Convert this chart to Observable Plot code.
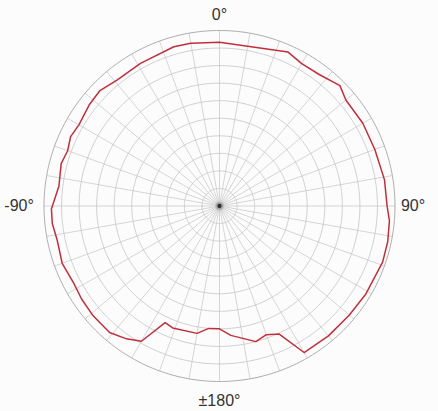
<!DOCTYPE html>
<html>
<head>
<meta charset="utf-8">
<script src="https://cdn.jsdelivr.net/npm/d3@7"></script>
<script src="https://cdn.jsdelivr.net/npm/@observablehq/plot@0.6"></script>
<style>
  html, body { margin: 0; padding: 0; background: #fcfcfc; }
  #chart svg { display: block; }
</style>
</head>
<body>
<div id="chart"></div>
<script>
// Angle in degrees, clockwise from top (0° = top, 90° = right, ±180° = bottom)
const angles = [-180, -175, -170, -159, -155, -150, -145, -139, -131, -124, -118, -110, -102, -96, -91,
  -83, -75, -70, -65, -60, -52, -46, -39, -29, -16, -10, 0, 10, 24, 30, 37, 45, 50, 60, 70, 81, 90,
  95, 102, 109, 121, 130, 140, 150, 155, 160, 165, 175, 180];
// Relative radius (outer ring = 1)
const radii = [0.70, 0.70, 0.737, 0.744, 0.733, 0.89, 0.924, 0.955, 0.954, 0.948, 0.94, 0.954, 0.945, 0.958, 0.958,
  0.922, 0.934, 0.921, 0.936, 0.925, 0.94, 0.947, 0.925, 0.929, 0.944, 0.942, 0.933, 0.924, 0.96, 0.937, 0.94, 0.97, 0.94, 0.943, 0.942, 0.952, 0.955,
  0.972, 0.98, 0.983, 0.973, 0.966, 0.966, 0.964, 0.805, 0.78, 0.80, 0.74, 0.70];

const ringLevels = [0.1, 0.2, 0.3, 0.4, 0.5, 0.6, 0.7, 0.8, 0.9];
const spokeAngles = d3.range(-170, 190, 10);
const labelAngles = [0, 90, -90, 180];
const labelTexts = ["0°", "90°", "-90°", "±180°"];
const labelRadii = [1.09, 1.103, 1.142, 1.11];

const pattern = angles.map((a, i) => ({angle: a, r: radii[i]}));
const labels = labelAngles.map((a, i) => ({angle: a, text: labelTexts[i], r: labelRadii[i]}));

const lon = a => 180 - a;
const lat = r => 90 - r;
const circle = r => d3.geoCircle().center([0, 90]).radius(r).precision(1)();

const chart = Plot.plot({
  width: 438,
  height: 411,
  margin: 0,
  style: {background: "#fcfcfc", fontFamily: "'Liberation Sans', Arial, sans-serif"},
  projection: {
    type: "azimuthal-equidistant",
    rotate: [0, -90],
    domain: circle(1.171)
  },
  marks: [
    Plot.geo(ringLevels, {geometry: circle, stroke: "#c4c4c4", strokeWidth: 0.8, fill: "none"}),
    Plot.link(spokeAngles, {x1: a => lon(a), y1: 90, x2: a => lon(a), y2: lat(1), stroke: "#c4c4c4", strokeWidth: 0.7}),
    Plot.geo([1], {geometry: circle, stroke: "#adadad", strokeWidth: 1, fill: "none"}),
    Plot.dot([0, 1, 2], {x: 0, y: 90, r: d => [12, 7, 2.4][d], fill: d => ["#999", "#777", "#222"][d], fillOpacity: d => [0.22, 0.35, 0.9][d], stroke: "none"}),
    Plot.line(pattern, {x: d => lon(d.angle), y: d => lat(d.r), stroke: "#c0303c", strokeWidth: 1.5}),
    Plot.text(labels, {x: d => lon(d.angle), y: d => lat(d.r), text: "text", fontSize: 16, fill: "#333", fontFamily: "'Liberation Sans', Arial, sans-serif"})
  ]
});
document.getElementById("chart").append(chart);
</script>
</body>
</html>
